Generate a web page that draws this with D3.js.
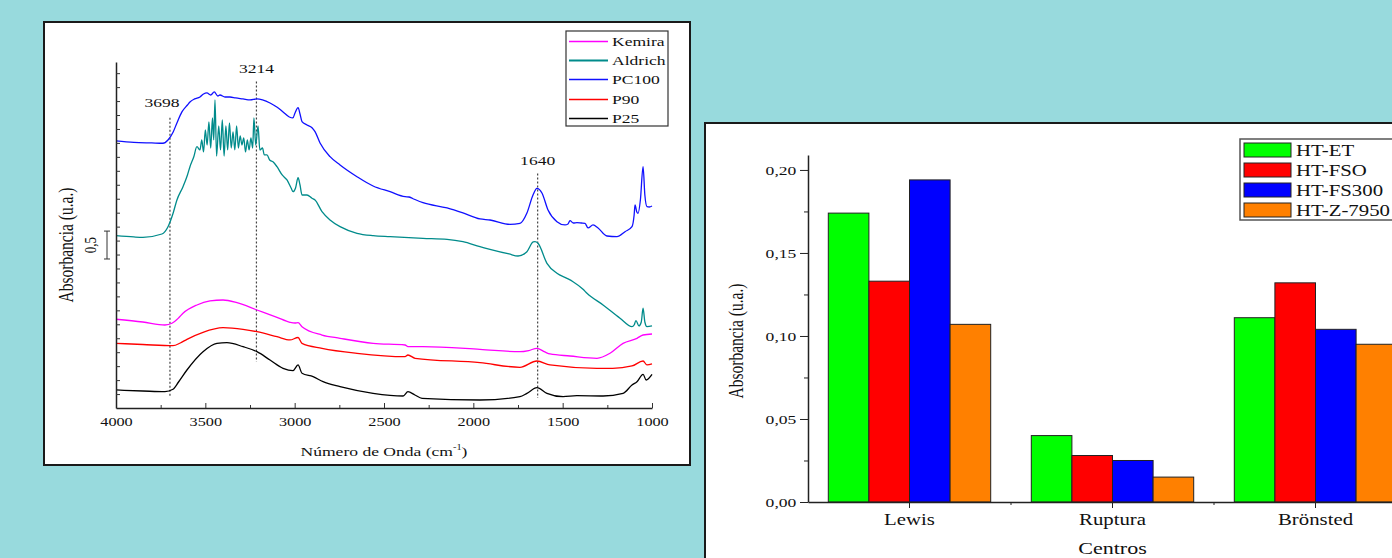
<!DOCTYPE html>
<html>
<head>
<meta charset="utf-8">
<script src="https://cdn.jsdelivr.net/npm/d3@7"></script>
<style>
  body { margin: 0; background: #98dadd; }
  svg { display: block; font-family: "Liberation Serif", "Times New Roman", serif; }
</style>
</head>
<body>
<svg id="mainSvg"></svg>
<script>
// ---- spectra data: [wavenumber cm-1, absorbance (a.u., offset)] ----
const pc100 = [
  [4000,4.785],[3900,4.758],[3800,4.749],[3737,4.744],[3709,4.803],[3680,4.946],[3659,5.108],
  [3631,5.305],[3600,5.430],[3586,5.484],[3560,5.538],[3530,5.573],[3510,5.627],[3491,5.645],
  [3470,5.609],[3450,5.663],[3430,5.591],[3418,5.609],[3390,5.573],[3362,5.573],[3330,5.556],
  [3289,5.538],[3250,5.520],[3211,5.538],[3180,5.520],[3138,5.466],[3100,5.394],[3065,5.305],
  [3030,5.215],[3010,5.197],[2998,5.287],[2981,5.382],[2970,5.269],[2959,5.131],[2931,5.072],
  [2903,5.023],[2886,4.952],[2858,4.749],[2802,4.504],[2746,4.355],[2651,4.145],[2561,3.978],
  [2466,3.876],[2382,3.787],[2360,3.781],[2340,3.754],[2282,3.679],[2147,3.584],[2058,3.495],
  [1963,3.387],[1907,3.369],[1795,3.292],[1739,3.310],[1700,3.495],[1666,3.817],[1644,3.937],
  [1616,3.853],[1582,3.548],[1532,3.339],[1487,3.280],[1470,3.297],[1459,3.357],[1440,3.315],
  [1420,3.321],[1395,3.315],[1375,3.310],[1358,3.226],[1330,3.280],[1302,3.226],[1252,3.082],
  [1196,3.070],[1151,3.159],[1112,3.249],[1100,3.459],[1095,3.638],[1085,3.513],[1078,3.489],
  [1065,3.728],[1050,4.324],[1040,3.817],[1028,3.608],[1015,3.602],[1000,3.620]
];
const aldrich = [
  [4000,3.088],[3900,3.065],[3849,3.059],[3743,3.118],[3709,3.249],[3680,3.495],[3659,3.728],
  [3625,3.966],[3600,4.176],[3586,4.324],[3565,4.498],[3547,4.683],[3530,4.624],[3520,4.803],
  [3510,4.588],[3500,4.982],[3490,4.713],[3480,5.125],[3470,4.659],[3460,5.197],[3453,4.803],
  [3446,5.520],[3437,4.516],[3425,5.054],[3415,4.624],[3405,5.161],[3395,4.516],[3385,5.054],
  [3375,4.624],[3365,5.108],[3355,4.659],[3345,4.946],[3335,4.624],[3325,5.054],[3315,4.659],
  [3305,4.875],[3295,4.713],[3285,4.839],[3275,4.588],[3265,4.803],[3255,4.624],[3245,4.839],
  [3235,4.659],[3228,5.197],[3218,4.713],[3205,5.054],[3195,4.624],[3180,4.659],[3170,4.534],
  [3155,4.534],[3140,4.444],[3120,4.409],[3099,4.324],[3070,4.176],[3043,4.086],[3020,3.943],
  [3009,3.876],[2995,3.943],[2981,4.127],[2970,3.996],[2959,3.817],[2931,3.817],[2903,3.758],
  [2886,3.728],[2847,3.518],[2802,3.369],[2746,3.249],[2651,3.131],[2561,3.088],[2466,3.070],
  [2282,3.041],[2147,3.023],[2058,2.980],[1963,2.891],[1907,2.844],[1800,2.760],[1750,2.724],
  [1700,2.801],[1665,2.975],[1655,2.980],[1638,2.952],[1588,2.593],[1532,2.414],[1476,2.324],
  [1442,2.263],[1386,2.127],[1364,2.056],[1274,1.846],[1179,1.608],[1112,1.457],[1100,1.487],
  [1090,1.565],[1073,1.470],[1060,1.541],[1050,1.787],[1040,1.541],[1028,1.457],[1000,1.470]
];
const kemira = [
  [4000,1.590],[3850,1.541],[3726,1.487],[3687,1.518],[3650,1.613],[3625,1.697],[3547,1.846],
  [3474,1.918],[3401,1.935],[3323,1.887],[3211,1.756],[3099,1.625],[3026,1.536],[2998,1.523],
  [2981,1.529],[2959,1.457],[2847,1.308],[2746,1.249],[2561,1.159],[2382,1.129],[2366,1.099],
  [2282,1.099],[1963,1.052],[1739,1.009],[1690,1.030],[1644,1.070],[1600,1.004],[1571,0.968],
  [1459,0.932],[1308,0.891],[1235,0.980],[1162,1.159],[1084,1.249],[1050,1.308],[1000,1.326]
];
const p90 = [
  [4000,1.159],[3850,1.138],[3681,1.116],[3640,1.165],[3603,1.231],[3513,1.357],[3401,1.439],
  [3289,1.410],[3211,1.367],[3099,1.278],[3026,1.219],[2981,1.263],[2959,1.159],[2847,1.070],
  [2651,0.980],[2382,0.919],[2366,0.950],[2326,0.891],[1963,0.812],[1739,0.729],[1644,0.842],
  [1571,0.771],[1308,0.711],[1220,0.711],[1112,0.753],[1050,0.842],[1028,0.771],[1000,0.789]
];
const p25 = [
  [4000,0.323],[3850,0.305],[3726,0.292],[3681,0.335],[3650,0.466],[3603,0.681],[3513,1.009],
  [3435,1.159],[3379,1.170],[3289,1.099],[3211,1.009],[3138,0.860],[3065,0.711],[3010,0.668],
  [2981,0.771],[2959,0.622],[2897,0.561],[2841,0.471],[2746,0.382],[2561,0.263],[2393,0.215],
  [2366,0.292],[2327,0.233],[2287,0.174],[1963,0.143],[1739,0.203],[1700,0.263],[1644,0.364],
  [1588,0.263],[1498,0.203],[1420,0.220],[1274,0.215],[1162,0.263],[1112,0.412],[1084,0.471],
  [1050,0.604],[1033,0.502],[1000,0.604]
];
const spectraNames = ["Kemira", "Aldrich", "PC100", "P90", "P25"];
const spectraColors = ["#ff00ff", "#008b8b", "#1010ff", "#ff0000", "#000000"];
const markedBands = [3698, 3214, 1640];
const xMajorTicks = [4000, 3500, 3000, 2500, 2000, 1500, 1000];

// ---- bar chart data ----
const categories = ["Lewis", "Ruptura", "Brönsted"];
const barSeries = ["HT-ET", "HT-FSO", "HT-FS300", "HT-Z-7950"];
const htET = [0.174, 0.040, 0.111];
const htFSO = [0.133, 0.028, 0.132];
const htFS300 = [0.194, 0.025, 0.104];
const htZ7950 = [0.107, 0.015, 0.095];
const barColors = ["#00ff00", "#ff0000", "#0000ff", "#ff8000"];
const barTicks = [0, 0.05, 0.10, 0.15, 0.20];

const width = 1392, height = 558;
const SX = 1.3; // the slide is stretched horizontally, text too

const svg = d3.select('#mainSvg')
  .attr("width", width)
  .attr("height", height);

svg.append("rect").attr("width", width).attr("height", height).attr("fill", "#98dadd");

// stretched text helper
function addText(g, x, y, str, size, anchor = "middle", rot = 0) {
  return g.append("text")
    .attr("transform", `translate(${x},${y}) scale(${SX},1)` + (rot ? ` rotate(${rot})` : ""))
    .attr("text-anchor", anchor)
    .attr("font-size", size)
    .attr("fill", "#111")
    .text(str);
}

// ================= left panel: FTIR spectra =================
svg.append("rect")
  .attr("x", 44).attr("y", 22).attr("width", 646).attr("height", 443)
  .attr("fill", "#fff").attr("stroke", "#1a1a1a").attr("stroke-width", 2);

const left = svg.append("g");
const xL = d3.scaleLinear().domain([4000, 1000]).range([116, 652]);
const yL = d3.scaleLinear().domain([0, 6.2]).range([408, 62]);

// dotted marker lines: [band, top, bottom]
const bandLines = [[3698, 5.2, 0.2], [3214, 5.85, 0.83], [1640, 4.2, 0.18]];
bandLines.forEach(b => {
  left.append("line")
    .attr("x1", xL(b[0])).attr("x2", xL(b[0]))
    .attr("y1", yL(b[1])).attr("y2", yL(b[2]))
    .attr("stroke", "#444").attr("stroke-width", 1.2)
    .attr("stroke-dasharray", "2,2");
});
addText(left, xL(3698) - 8, yL(5.2) - 11, String(markedBands[0]), 13.5);
addText(left, xL(3214), yL(5.85) - 9, String(markedBands[1]), 13.5);
addText(left, xL(1640), yL(4.2) - 9, String(markedBands[2]), 13.5);

const line = d3.line()
  .x(d => xL(d[0]))
  .y(d => yL(d[1]))
  .curve(d3.curveMonotoneX);

[kemira, aldrich, pc100, p90, p25].forEach((s, i) => {
  left.append("path")
    .datum(s)
    .attr("d", line)
    .attr("fill", "none")
    .attr("stroke", spectraColors[i])
    .attr("stroke-width", 1.3);
});

// axes
const xAxisL = left.append("g")
  .attr("transform", `translate(0,${yL(0)})`)
  .call(d3.axisBottom(xL).tickValues(xMajorTicks).tickSize(-5).tickSizeOuter(0).tickPadding(9).tickFormat(d3.format("d")));
xAxisL.selectAll("text").attr("font-size", 12.5).attr("fill", "#111")
  .attr("font-family", "Liberation Serif").attr("transform", `scale(${SX},1)`);
left.append("g")
  .attr("transform", `translate(0,${yL(0)})`)
  .call(d3.axisBottom(xL).tickValues(d3.range(3750, 1000, -500)).tickSize(-3).tickFormat(""))
  .select(".domain").remove();

left.append("g")
  .attr("transform", `translate(${xL(4000)},0)`)
  .call(d3.axisRight(yL).tickValues(d3.range(0.25, 6.2, 0.25)).tickSize(4).tickSizeOuter(0).tickFormat(""));
left.selectAll(".domain").attr("stroke", "#222").attr("stroke-width", 1.5);
left.selectAll(".tick line").attr("stroke", "#333");

// scale bar 0,5
const sbX = 107, sbTop = 3.17, sbBot = 2.67;
left.append("line").attr("x1", sbX).attr("x2", sbX).attr("y1", yL(sbTop)).attr("y2", yL(sbBot)).attr("stroke", "#333");
[sbTop, sbBot].forEach(v => left.append("line")
  .attr("x1", sbX - 3).attr("x2", sbX + 3).attr("y1", yL(v)).attr("y2", yL(v)).attr("stroke", "#333"));
addText(left, 96, yL((sbTop + sbBot) / 2), "0,5", 13, "middle", -90);
addText(left, 73, 245, "Absorbancia (u.a.)", 15.5, "middle", -90);

const titleL = left.append("text")
  .attr("transform", `translate(384,456) scale(${SX},1)`)
  .attr("text-anchor", "middle").attr("font-size", 13.5).attr("fill", "#111");
titleL.append("tspan").text("Número de Onda (cm");
titleL.append("tspan").attr("font-size", 8).attr("dy", -6).text("-1");
titleL.append("tspan").attr("dy", 6).text(")");

// legend
const legL = left.append("g");
legL.append("rect").attr("x", 566).attr("y", 31).attr("width", 102).attr("height", 95)
  .attr("fill", "#fff").attr("stroke", "#333").attr("stroke-width", 1.2);
spectraNames.forEach((n, i) => {
  const cy = Math.round(41 + i * 19.2) + 0.5;
  legL.append("line").attr("x1", 569).attr("x2", 608).attr("y1", cy).attr("y2", cy)
    .attr("stroke", spectraColors[i]).attr("stroke-width", i === 1 ? 2 : 1.3);
  addText(legL, 612, cy + 4.5, n, 13.5, "start");
});

// ================= right panel: bar chart =================
svg.append("rect")
  .attr("x", 705).attr("y", 123).attr("width", 760).attr("height", 470)
  .attr("fill", "#fff").attr("stroke", "#1a1a1a").attr("stroke-width", 2);

const right = svg.append("g");
const xB = d3.scaleBand().domain(categories).range([808, 1417]).paddingInner(0.2).paddingOuter(0.1);
const xSub = d3.scaleBand().domain(barSeries).range([0, xB.bandwidth()]);
const yB = d3.scaleLinear().domain([0, 0.209]).range([502, 155]);

const barValues = [htET, htFSO, htFS300, htZ7950];
barSeries.forEach((s, si) => {
  right.append("g")
    .selectAll("rect")
    .data(categories.map((c, ci) => ({ c, v: barValues[si][ci] })))
    .enter()
    .append("rect")
    .attr("x", d => xB(d.c) + xSub(s))
    .attr("y", d => yB(d.v))
    .attr("width", xSub.bandwidth())
    .attr("height", d => yB(0) - yB(d.v))
    .attr("fill", barColors[si])
    .attr("stroke", "#222")
    .attr("stroke-width", 1);
});

const yAxisB = right.append("g")
  .attr("transform", `translate(808,0)`)
  .call(d3.axisLeft(yB).tickValues(barTicks).tickSize(8).tickSizeOuter(0).tickPadding(1)
    .tickFormat(d => d3.format(".2f")(d).replace(".", ",")));
yAxisB.selectAll("text").attr("font-size", 13.5).attr("fill", "#111")
  .attr("font-family", "Liberation Serif").attr("transform", `scale(${SX},1)`);
right.append("g")
  .attr("transform", `translate(808,0)`)
  .call(d3.axisLeft(yB).tickValues([0.025, 0.075, 0.125, 0.175]).tickSize(4).tickFormat(""))
  .select(".domain").remove();

const xAxisB = right.append("g")
  .attr("transform", `translate(0,${yB(0)})`)
  .call(d3.axisBottom(xB).tickSize(6).tickSizeOuter(0).tickPadding(6));
xAxisB.selectAll("text").attr("font-size", 16).attr("fill", "#111")
  .attr("font-family", "Liberation Serif").attr("transform", `scale(${SX},1)`);
categories.slice(1).forEach(c => {
  const sx = xB(c) - xB.step() * xB.paddingInner() / 2;
  right.append("line").attr("x1", sx).attr("x2", sx).attr("y1", yB(0)).attr("y2", yB(0) + 3)
    .attr("stroke", "#222");
});
right.selectAll(".domain").attr("stroke", "#222").attr("stroke-width", 1.5);
right.selectAll(".tick line").attr("stroke", "#222");

addText(right, 743, 341, "Absorbancia (u.a.)", 15.5, "middle", -90);
addText(right, xB("Ruptura") + xB.bandwidth() / 2, 554, "Centros", 17);

// legend
const legB = right.append("g");
legB.append("rect").attr("x", 1240).attr("y", 139).attr("width", 170).attr("height", 81)
  .attr("fill", "#fff").attr("stroke", "#555").attr("stroke-width", 1.5);
barSeries.forEach((s, i) => {
  const cy = 150 + i * 20;
  legB.append("rect").attr("x", 1244).attr("y", cy - 7).attr("width", 47).attr("height", 14)
    .attr("fill", barColors[i]).attr("stroke", "#222").attr("stroke-width", 1);
  addText(legB, 1296, cy + 5.5, s, 16, "start");
});
</script>
</body>
</html>
